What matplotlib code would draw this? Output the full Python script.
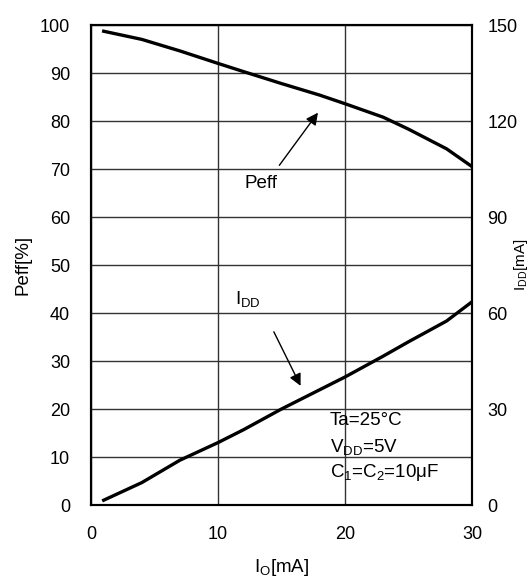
import matplotlib.pyplot as plt
import matplotlib.patches as patches

plt.rcParams['font.family'] = ['Liberation Sans', 'DejaVu Sans']
plt.rcParams['mathtext.fontset'] = 'custom'
plt.rcParams['mathtext.rm'] = 'Liberation Sans'
plt.rcParams['mathtext.it'] = 'Liberation Sans'

# Peff vs Io
io_peff = [1, 4, 7, 10, 12, 15, 18, 20, 23, 25, 28, 30]
peff = [98.7, 97.0, 94.6, 92.0, 90.3, 87.8, 85.4, 83.6, 80.8, 78.3, 74.2, 70.5]

# IDD vs Io (right axis)
io_idd = [1, 4, 7, 10, 12, 15, 18, 20, 23, 25, 28, 30]
idd = [1.5, 7.0, 14.0, 19.5, 23.5, 30.0, 36.0, 40.0, 46.5, 51.0, 57.5, 63.5]

xticks = [0, 10, 20, 30]
yticks = list(range(0, 101, 10))
y2ticks = [0, 30, 60, 90, 120, 150]

fs_tick = 13
fs = 13.5

fig = plt.figure(figsize=(5.31, 5.78), dpi=100)
ax = fig.add_axes([91 / 531, 73 / 578, 381 / 531, 480 / 578])

ax.set_xlim(0, 30)
ax.set_ylim(0, 100)
ax.set_xticks(xticks)
ax.set_yticks(yticks)
ax.grid(True, color='#333333', lw=1.0, zorder=0)
ax.tick_params(axis='both', length=0, labelsize=fs_tick)
ax.tick_params(axis='y', pad=15)
ax.tick_params(axis='x', pad=15)
for s in ax.spines.values():
    s.set_linewidth(1.5)

ax.plot(io_peff, peff, color='black', lw=2.4, zorder=3)

# white boxes breaking the grid behind labels
ax.add_patch(patches.Rectangle((11.7, 64.2), 6.0, 8.0, facecolor='white',
                               edgecolor='none', zorder=1))
ax.add_patch(patches.Rectangle((10.8, 37.2), 6.9, 8.5, facecolor='white',
                               edgecolor='none', zorder=1))
ax.add_patch(patches.Rectangle((18.2, 2.1), 10.6, 22.5, facecolor='white',
                               edgecolor='none', zorder=1))

ax.text(12.1, 67.0, 'Peff', fontsize=fs, ha='left', va='center', zorder=4)
ax.annotate('', xy=(18.0, 82.2), xytext=(14.7, 70.3),
            arrowprops=dict(arrowstyle='-|>', color='black', lw=1.0,
                            mutation_scale=18), zorder=4)

ax.text(11.3, 43.0, r'I$_{\mathregular{DD}}$', fontsize=fs, ha='left',
        va='center', zorder=4)
ax.annotate('', xy=(16.6, 24.3), xytext=(14.3, 36.6),
            arrowprops=dict(arrowstyle='-|>', color='black', lw=1.0,
                            mutation_scale=18), zorder=4)

ax.text(18.8, 17.6, 'Ta=25\u00b0C', fontsize=fs, ha='left', va='center', zorder=4)
ax.text(18.8, 12.0, r'V$_{\mathregular{DD}}$=5V', fontsize=fs, ha='left',
        va='center', zorder=4)
ax.text(18.8, 6.8, r'C$_{\mathregular{1}}$=C$_{\mathregular{2}}$=10$\mathregular{\mu}$F',
        fontsize=fs, ha='left', va='center', zorder=4)

ax.set_xlabel(r'I$_{\mathregular{O}}$[mA]', fontsize=fs, labelpad=10)
ax.set_ylabel('Peff[%]', fontsize=fs, labelpad=6)

ax2 = ax.twinx()
ax2.set_ylim(0, 150)
ax2.set_yticks(y2ticks)
ax2.tick_params(axis='y', length=0, labelsize=fs_tick, pad=11)
for s in ax2.spines.values():
    s.set_linewidth(1.5)
ax2.plot(io_idd, idd, color='black', lw=2.4, zorder=3)

# right axis label: placed flush to the figure edge so it stays inside
fig.text(0.998, 1 - 265 / 578, r'I$_{\mathregular{DD}}$[mA]', fontsize=11,
         rotation=90, ha='right', va='center')

fig.savefig('out.png', dpi=100)
